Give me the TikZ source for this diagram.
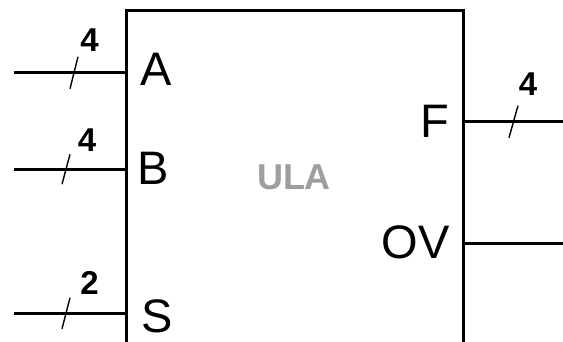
\documentclass[tikz,border=0pt]{standalone}
\usepackage{fontspec}
\setmainfont{Liberation Sans}
\usetikzlibrary{calc}
\begin{document}
\begin{tikzpicture}[x=1pt,y=1pt,
  wire/.style={line width=3pt},
  boxline/.style={draw,line width=3pt,inner sep=0pt},
  portlabel/.style={inner sep=0pt,font=\fontsize{47}{47}\selectfont},
  buswidth/.style={inner sep=0pt,font=\bfseries\fontsize{33}{33}\selectfont},
  busmark/.style={line width=1.4pt},
  title/.style={inner sep=0pt,text=black!38,font=\bfseries\fontsize{36}{36}\selectfont}]
\clip (0,0) rectangle (563,341);
% the ALU block (runs past the lower edge)
\node[boxline,minimum width=337pt,minimum height=360pt,anchor=north west] (ula) at (125,331.5) {};
\node[title] (name) at (294,163.5) {ULA};
% port labels
\node[portlabel,anchor=base west] (A) at (140,255) {A};
\node[portlabel,anchor=base west] (B) at (137,157) {B};
\node[portlabel,anchor=base west] (S) at (141,9) {S};
\node[portlabel,anchor=base east] (F) at (449,204) {F};
\node[portlabel,anchor=base east] (OV) at (450,83) {OV};
% wire ends
\coordinate (inA) at (14,268.3);
\coordinate (inB) at (14,171.7);
\coordinate (inS) at (14,27.7);
\coordinate (outF) at (563,219.3);
\coordinate (outOV) at (563,97.7);
\draw[wire] (inA) -- (inA -| ula.west);
\draw[wire] (inB) -- (inB -| ula.west);
\draw[wire] (inS) -- (inS -| ula.west);
\draw[wire] (outF -| ula.east) -- (outF);
\draw[wire] (outOV -| ula.east) -- (outOV);
% bus slashes
\coordinate (mA) at (74,268.3);
\coordinate (mB) at (66,171.7);
\coordinate (mS) at (66,27.7);
\coordinate (mF) at (513.5,219.3);
\draw[busmark] ($(mA)+(-4,-16)$) -- ($(mA)+(4,16)$);
\draw[busmark] ($(mB)+(-4,-15)$) -- ($(mB)+(4,15)$);
\draw[busmark] ($(mS)+(-4,-15.5)$) -- ($(mS)+(4,15.5)$);
\draw[busmark] ($(mF)+(-4.5,-16)$) -- ($(mF)+(4.5,16)$);
% bus widths
\node[buswidth] (wA) at (89.5,301) {4};
\node[buswidth] (wB) at (87,201) {4};
\node[buswidth] (wS) at (89.5,58) {2};
\node[buswidth] (wF) at (528,256.5) {4};
\end{tikzpicture}
\end{document}
